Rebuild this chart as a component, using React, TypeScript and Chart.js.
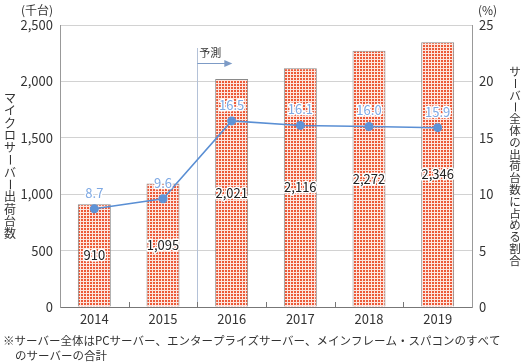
import React, { useEffect, useRef } from "react";
import { Chart, registerables } from "chart.js";

Chart.register(...registerables);

const years = ["2014", "2015", "2016", "2017", "2018", "2019"];
const shipments = [910, 1095, 2021, 2116, 2272, 2346];
const shares = [8.7, 9.6, 16.5, 16.1, 16.0, 15.9];
const leftTitle = "マイクロサーバー出荷台数";
const rightTitle = "サーバー全体の出荷台数に占める割合";
const leftUnit = "(千台)";
const rightUnit = "(%)";
const forecastLabel = "予測";
const forecastStartIndex = 2;
const noteLine1 = "※サーバー全体はPCサーバー、エンタープライズサーバー、メインフレーム・スパコンのすべて";
const noteLine2 = "のサーバーの合計";

const FONT = '"Noto Sans CJK JP", "Noto Sans", sans-serif';

function makePattern(): CanvasPattern | string {
  const c = document.createElement("canvas");
  c.width = 3;
  c.height = 3;
  const g = c.getContext("2d");
  if (!g) return "#ee7050";
  g.fillStyle = "#fde6df";
  g.fillRect(0, 0, 3, 3);
  g.fillStyle = "#ec5a38";
  g.fillRect(0, 0, 2, 2);
  const p = g.createPattern(c, "repeat");
  return p || "#ee7050";
}

function drawVertical(ctx: CanvasRenderingContext2D, text: string, cx: number, cy: number, step: number, font: string) {
  const chars = Array.from(text);
  const total = chars.length * step;
  let y = cy - total / 2 + step / 2;
  ctx.save();
  ctx.font = font;
  ctx.fillStyle = "#333";
  ctx.textAlign = "center";
  ctx.textBaseline = "middle";
  for (const ch of chars) {
    if (ch === "ー") {
      ctx.save();
      ctx.translate(cx, y);
      ctx.rotate(Math.PI / 2);
      ctx.fillText(ch, 0, 0);
      ctx.restore();
    } else {
      ctx.fillText(ch, cx, y);
    }
    y += step;
  }
  ctx.restore();
}

function outlinedText(ctx: CanvasRenderingContext2D, text: string, x: number, y: number, fill: string) {
  ctx.lineWidth = 3;
  ctx.lineJoin = "round";
  ctx.strokeStyle = "#ffffff";
  ctx.strokeText(text, x, y);
  ctx.fillStyle = fill;
  ctx.fillText(text, x, y);
}

const decorPlugin = {
  id: "decor",
  beforeDatasetsDraw(chart: any) {
    const { ctx, chartArea, scales } = chart;
    const x = scales.x;
    const bx = (x.getPixelForValue(forecastStartIndex - 1) + x.getPixelForValue(forecastStartIndex)) / 2;
    ctx.save();
    ctx.strokeStyle = "#b4c2d8";
    ctx.lineWidth = 1;
    ctx.beginPath();
    ctx.moveTo(Math.round(bx) + 0.5, chartArea.top + 23);
    ctx.lineTo(Math.round(bx) + 0.5, chartArea.bottom);
    ctx.stroke();
    ctx.strokeStyle = "#7d9bc6";
    ctx.beginPath();
    ctx.moveTo(bx, chartArea.top + 38.5);
    ctx.lineTo(bx + 28, chartArea.top + 38.5);
    ctx.stroke();
    ctx.fillStyle = "#7d9bc6";
    ctx.beginPath();
    ctx.moveTo(bx + 35, chartArea.top + 38.5);
    ctx.lineTo(bx + 27, chartArea.top + 35);
    ctx.lineTo(bx + 27, chartArea.top + 42);
    ctx.closePath();
    ctx.fill();
    ctx.font = "11px " + FONT;
    ctx.fillStyle = "#333";
    ctx.textAlign = "left";
    ctx.textBaseline = "middle";
    ctx.fillText(forecastLabel, bx + 2, chartArea.top + 28);
    ctx.restore();
  },
  afterDatasetsDraw(chart: any) {
    const { ctx } = chart;
    const barMeta = chart.getDatasetMeta(0);
    const lineMeta = chart.getDatasetMeta(1);
    ctx.save();
    ctx.font = "13px " + FONT;
    ctx.textAlign = "center";
    ctx.textBaseline = "middle";
    barMeta.data.forEach((bar: any, i: number) => {
      const cy = (bar.y + bar.base) / 2;
      outlinedText(ctx, shipments[i].toLocaleString("en-US"), bar.x, cy, "#222");
    });
    lineMeta.data.forEach((pt: any, i: number) => {
      outlinedText(ctx, shares[i].toFixed(1), pt.x, pt.y - 16, "#7ea9e4");
    });
    ctx.restore();
  },
  afterDraw(chart: any) {
    const { ctx, chartArea, scales } = chart;
    const x = scales.x;
    ctx.save();
    ctx.strokeStyle = "#777";
    ctx.lineWidth = 1;
    for (let i = 1; i < years.length; i++) {
      const bx = Math.round((x.getPixelForValue(i - 1) + x.getPixelForValue(i)) / 2) + 0.5;
      ctx.beginPath();
      ctx.moveTo(bx, chartArea.bottom);
      ctx.lineTo(bx, chartArea.bottom - 5);
      ctx.stroke();
    }
    ctx.restore();
    const midY = (chartArea.top + chartArea.bottom) / 2;
    drawVertical(ctx, leftTitle, 10, midY, 12.3, "12px " + FONT);
    drawVertical(ctx, rightTitle, 515, midY, 11.8, "11.5px " + FONT);
    ctx.save();
    ctx.fillStyle = "#333";
    ctx.textBaseline = "middle";
    ctx.font = "12px " + FONT;
    ctx.textAlign = "left";
    ctx.fillText(leftUnit, 21, 10);
    ctx.fillText(rightUnit, 478, 10);
    ctx.font = "11.5px " + FONT;
    ctx.fillText(noteLine1, 3, 341, 508);
    ctx.fillText(noteLine2, 15, 356);
    ctx.restore();
  },
};

export default function App() {
  const ref = useRef<HTMLCanvasElement>(null);
  useEffect(() => {
    if (!ref.current) return;
    const pattern = makePattern();
    const chart = new Chart(ref.current, {
      type: "bar",
      data: {
        labels: years,
        datasets: [
          {
            type: "bar",
            data: shipments,
            yAxisID: "y",
            backgroundColor: pattern as any,
            borderColor: "#8a8a8a",
            borderWidth: { left: 1, right: 1, top: 1, bottom: 0 } as any,
            borderSkipped: "start",
            categoryPercentage: 1,
            barPercentage: 0.48,
            order: 2,
          },
          {
            type: "line",
            data: shares,
            yAxisID: "y1",
            borderColor: "#5a8fd4",
            backgroundColor: "#5a8fd4",
            borderWidth: 1.5,
            pointRadius: 4.5,
            pointBackgroundColor: "#5f93d6",
            pointBorderWidth: 0,
            order: 1,
          } as any,
        ],
      },
      options: {
        responsive: false,
        animation: false,
        layout: { padding: { top: 25, left: 0, right: 0, bottom: 0 } },
        plugins: { legend: { display: false }, tooltip: { enabled: false } },
        scales: {
          x: {
            grid: { display: false, drawTicks: false },
            border: { display: true, color: "#777", width: 1 },
            ticks: { color: "#333", font: { size: 13, family: FONT }, padding: 4 },
            afterFit: (s: any) => { s.height = 56; },
          },
          y: {
            position: "left",
            min: 0,
            max: 2500,
            ticks: {
              stepSize: 500,
              color: "#333",
              font: { size: 13, family: FONT },
              padding: 7,
              callback: (v: any) => Number(v).toLocaleString("en-US"),
            },
            grid: { color: "#d2d2d2", drawTicks: false, lineWidth: 1 },
            border: { display: true, color: "#999" },
            afterFit: (s: any) => { s.width = 60; },
          },
          y1: {
            position: "right",
            min: 0,
            max: 25,
            ticks: { stepSize: 5, color: "#333", font: { size: 13, family: FONT }, padding: 7 },
            grid: { display: false, drawTicks: false },
            border: { display: true, color: "#999" },
            afterFit: (s: any) => { s.width = 52; },
          },
        },
      },
      plugins: [decorPlugin],
    });
    return () => chart.destroy();
  }, []);
  return (
    <div style={{ position: "fixed", left: 0, top: 0, width: 524, height: 363, background: "#fff" }}>
      <canvas ref={ref} width={524} height={363} style={{ width: 524, height: 363 }} />
    </div>
  );
}
